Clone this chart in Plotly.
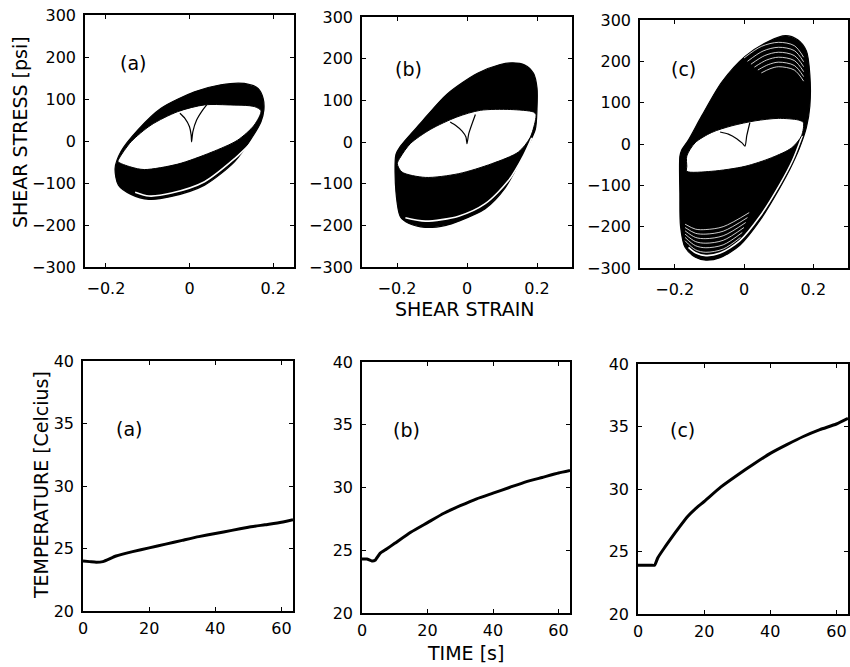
import plotly.graph_objects as go

# ---------------- data ----------------
# Top row: shear stress [psi] vs shear strain, outer envelope of all cycles,
# inner (first, white) loop and the initial loading cusp.
a_outer_x = [-0.178, -0.170, -0.140, -0.097, -0.043, 0.036, 0.108, 0.148, 0.171, 0.178, 0.176, 0.164, 0.131, 0.075, 0.012, -0.068, -0.124, -0.164]
a_outer_y = [-65, -105, -127, -139, -132, -105, -49, 6, 46, 74, 102, 125, 137, 134, 117, 78, 26, -25]
a_inner_x = [-0.171, -0.140, -0.108, -0.028, 0.052, 0.115, 0.155, 0.171, 0.155, 0.092, 0.036, -0.028, -0.092, -0.140, -0.168]
a_inner_y = [-49, -62, -68, -55, -27, 2, 38, 72, 82, 86, 86, 70, 38, -2, -41]
a_gap_x = [0.150, 0.108, 0.036, -0.043, -0.097, -0.130]
a_gap_y = [-2, -42, -97, -124, -131, -122]
a_cusp_x = [-0.023, -0.011, 0.000, 0.004, 0.005, 0.008, 0.017, 0.029, 0.041]
a_cusp_y = [66, 54, 34, 14, -2, 22, 50, 70, 86]

b_outer_x = [-0.203, -0.203, -0.190, -0.167, -0.119, -0.060, -0.024, 0.052, 0.109, 0.167, 0.195, 0.200, 0.200, 0.190, 0.165, 0.130, 0.095, 0.030, -0.057, -0.133, -0.190]
b_outer_y = [-30, -120, -180, -195, -205, -200, -190, -160, -110, -20, 30, 80, 130, 165, 185, 190, 186, 165, 115, 45, -10]
b_inner_x = [-0.199, -0.186, -0.119, -0.024, 0.071, 0.147, 0.180, 0.195, 0.197, 0.190, 0.124, 0.038, -0.029, -0.105, -0.162, -0.190]
b_inner_y = [-52, -72, -85, -76, -52, -24, 10, 50, 66, 72, 78, 76, 60, 30, -4, -36]
b_gap_x = [-0.176, -0.119, -0.024, 0.052, 0.119, 0.162, 0.185]
b_gap_y = [-182, -190, -178, -148, -92, -32, 10]
b_cusp_x = [-0.048, -0.033, -0.014, -0.003, 0.000, 0.005, 0.024]
b_cusp_y = [48, 40, 26, 12, -4, 20, 66]

c_outer_x = [-0.185, -0.185, -0.183, -0.170, -0.140, -0.110, -0.069, -0.012, 0.046, 0.104, 0.133, 0.160, 0.180, 0.190, 0.190, 0.180, 0.155, 0.120, 0.070, 0.003, -0.064, -0.122, -0.160, -0.180]
c_outer_y = [-30, -120, -200, -250, -274, -281, -275, -245, -185, -105, -60, -10, 40, 92, 167, 225, 252, 262, 248, 212, 150, 68, 10, -15]
c_inner_x = [-0.165, -0.165, -0.093, 0.003, 0.080, 0.138, 0.166, 0.171, 0.157, 0.099, 0.032, -0.035, -0.093, -0.141, -0.165]
c_inner_y = [-54, -66, -66, -54, -33, -9, 20, 52, 58, 62, 56, 44, 28, 3, -29]
c_gap_x = [-0.160, -0.140, -0.110, -0.069, -0.012, 0.046, 0.104, 0.140, 0.168]
c_gap_y = [-250, -263, -270, -264, -234, -175, -97, -40, 20]
c_cusp_x = [-0.069, -0.045, -0.021, -0.005, 0.003, 0.008, 0.017]
c_cusp_y = [29, 24, 13, 2, -5, 20, 52]

# Panel (c): separate late cycles visible as fine stripes near the peaks
c_top_stripes_x = [
    [0.000, 0.050, 0.100, 0.145, 0.172],
    [0.010, 0.055, 0.100, 0.145, 0.172],
    [0.020, 0.060, 0.100, 0.145, 0.172],
    [0.030, 0.065, 0.100, 0.145, 0.172],
    [0.040, 0.070, 0.100, 0.145, 0.172],
    [0.050, 0.075, 0.100, 0.145, 0.172],
]
c_top_stripes_y = [
    [208, 236, 246, 238, 210],
    [200, 225, 234, 226, 199],
    [193, 214, 222, 214, 187],
    [186, 203, 210, 202, 175],
    [179, 192, 198, 190, 163],
    [172, 182, 187, 179, 152],
]
c_bot_stripes_x = [
    [-0.170, -0.140, -0.110, -0.060, -0.010],
    [-0.170, -0.140, -0.110, -0.060, -0.005],
    [-0.170, -0.140, -0.110, -0.060, 0.000],
    [-0.170, -0.140, -0.110, -0.060, 0.005],
    [-0.170, -0.140, -0.110, -0.060, 0.010],
    [-0.170, -0.140, -0.110, -0.060, 0.015],
]
c_bot_stripes_y = [
    [-234, -256, -262, -254, -226],
    [-226, -246, -251, -244, -214],
    [-218, -236, -240, -233, -202],
    [-210, -226, -229, -222, -190],
    [-202, -216, -218, -211, -178],
    [-194, -206, -207, -200, -166],
]

# Bottom row: temperature [Celsius] vs time [s]
ta_t = [0, 2, 4, 6, 10, 15, 20, 25, 30, 35, 40, 45, 50, 55, 60, 63.5]
ta_T = [24.0, 23.95, 23.9, 23.95, 24.4, 24.75, 25.05, 25.35, 25.65, 25.95, 26.2, 26.45, 26.7, 26.9, 27.1, 27.3]
tb_t = [0, 1.5, 3, 4, 5.5, 7.5, 10, 15, 20, 25, 30, 35, 40, 45, 50, 55, 60, 63.5]
tb_T = [24.3, 24.3, 24.15, 24.2, 24.75, 25.1, 25.55, 26.45, 27.2, 27.95, 28.55, 29.1, 29.55, 30.0, 30.45, 30.8, 31.15, 31.35]
tc_t = [0, 2, 4, 5, 6, 8, 10, 12.5, 15, 17.5, 20, 25, 30, 35, 40, 45, 50, 55, 60, 63.5]
tc_T = [23.9, 23.9, 23.9, 23.9, 24.5, 25.3, 26.05, 26.95, 27.8, 28.45, 29.0, 30.15, 31.1, 32.0, 32.85, 33.55, 34.2, 34.75, 35.2, 35.65]

panel_labels = ["(a)", "(b)", "(c)"]
stress_ticks = [-300, -200, -100, 0, 100, 200, 300]
strain_ticks = [-0.2, 0, 0.2]
temp_ticks = [20, 25, 30, 35, 40]
time_ticks = [0, 20, 40, 60]

# ---------------- figure ----------------
W, H = 850, 667
FONT = "DejaVu Sans, Liberation Sans, sans-serif"

def px(x0, x1):
    return [x0 / W, x1 / W]

def py(top, bottom):
    return [1 - bottom / H, 1 - top / H]

fig = go.Figure()

loops = [
    (a_outer_x, a_outer_y, a_inner_x, a_inner_y, a_gap_x, a_gap_y, a_cusp_x, a_cusp_y),
    (b_outer_x, b_outer_y, b_inner_x, b_inner_y, b_gap_x, b_gap_y, b_cusp_x, b_cusp_y),
    (c_outer_x, c_outer_y, c_inner_x, c_inner_y, c_gap_x, c_gap_y, c_cusp_x, c_cusp_y),
]
for i, (ox, oy, ix, iy, gx, gy, cx, cy) in enumerate(loops):
    xa = "x" if i == 0 else f"x{i+1}"
    ya = "y" if i == 0 else f"y{i+1}"
    fig.add_trace(go.Scatter(x=ox + [ox[0]], y=oy + [oy[0]], mode="lines", fill="toself",
                             fillcolor="black", line=dict(color="black", width=1.2, shape="spline", smoothing=0.8),
                             xaxis=xa, yaxis=ya, hoverinfo="skip"))
    if i == 2:
        for sx, sy in zip(c_top_stripes_x + c_bot_stripes_x, c_top_stripes_y + c_bot_stripes_y):
            fig.add_trace(go.Scatter(x=sx, y=sy, mode="lines",
                                     line=dict(color="white", width=0.8, shape="spline", smoothing=0.9),
                                     xaxis=xa, yaxis=ya, hoverinfo="skip"))
    fig.add_trace(go.Scatter(x=gx, y=gy, mode="lines",
                             line=dict(color="white", width=1.6, shape="spline", smoothing=0.8),
                             xaxis=xa, yaxis=ya, hoverinfo="skip"))
    fig.add_trace(go.Scatter(x=ix + [ix[0]], y=iy + [iy[0]], mode="lines", fill="toself",
                             fillcolor="white", line=dict(color="black", width=1, shape="spline", smoothing=0.8),
                             xaxis=xa, yaxis=ya, hoverinfo="skip"))
    fig.add_trace(go.Scatter(x=cx, y=cy, mode="lines",
                             line=dict(color="black", width=1.2, shape="spline", smoothing=0.6),
                             xaxis=xa, yaxis=ya, hoverinfo="skip"))

temps = [(ta_t, ta_T), (tb_t, tb_T), (tc_t, tc_T)]
for i, (t, T) in enumerate(temps):
    fig.add_trace(go.Scatter(x=t, y=T, mode="lines",
                             line=dict(color="black", width=3, shape="spline", smoothing=0.5),
                             xaxis=f"x{i+4}", yaxis=f"y{i+4}", hoverinfo="skip"))

axis_common = dict(showline=True, linecolor="black", linewidth=1.5, mirror="ticks",
                   ticks="inside", ticklen=4, tickcolor="black", tickwidth=1,
                   showgrid=False, zeroline=False,
                   tickfont=dict(family=FONT, size=16, color="black"))

top_x = [px(85, 294), px(362, 572), px(640, 848)]
top_y = [py(15, 267), py(17, 267), py(20, 268)]
top_xr = [[-0.25, 0.25], [-0.3, 0.3], [-0.3, 0.3]]
bot_x = [px(83, 293), px(362, 570), px(638, 848)]
bot_y = [py(361, 611), py(362, 613), py(364, 614)]

layout = dict(width=W, height=H, margin=dict(l=0, r=0, t=0, b=0, autoexpand=False),
              paper_bgcolor="white", plot_bgcolor="white", showlegend=False)
for i in range(3):
    n = "" if i == 0 else str(i + 1)
    layout[f"xaxis{n}"] = dict(axis_common, domain=top_x[i], range=top_xr[i], anchor=f"y{n}",
                               tickvals=strain_ticks, ticklabelstandoff=6)
    layout[f"yaxis{n}"] = dict(axis_common, domain=top_y[i], range=[-300, 300], anchor=f"x{n}",
                               tickvals=stress_ticks, ticklabelstandoff=4)
    m = str(i + 4)
    layout[f"xaxis{m}"] = dict(axis_common, domain=bot_x[i], range=[0, 63.5], anchor=f"y{m}",
                               tickvals=time_ticks, ticklabelstandoff=2)
    layout[f"yaxis{m}"] = dict(axis_common, domain=bot_y[i], range=[20, 40], anchor=f"x{m}",
                               tickvals=temp_ticks, ticklabelstandoff=4)
fig.update_layout(**layout)

ann = []
top_lab_pos = [(-0.134, 185), (-0.167, 176), (-0.175, 182)]
bot_lab_pos = [(14, 34.6), (13.7, 34.6), (13.6, 34.7)]
for i in range(3):
    n = "" if i == 0 else str(i + 1)
    ann.append(dict(text=panel_labels[i], x=top_lab_pos[i][0], y=top_lab_pos[i][1],
                    xref=f"x{n}", yref=f"y{n}", showarrow=False,
                    xanchor="center", yanchor="middle",
                    font=dict(family=FONT, size=19, color="black")))
    m = str(i + 4)
    ann.append(dict(text=panel_labels[i], x=bot_lab_pos[i][0], y=bot_lab_pos[i][1],
                    xref=f"x{m}", yref=f"y{m}", showarrow=False,
                    xanchor="center", yanchor="middle",
                    font=dict(family=FONT, size=19, color="black")))

title_font = dict(family=FONT, size=19, color="black")
ann.append(dict(text="SHEAR STRESS [psi]", x=20 / W, y=1 - 132 / H, xref="paper", yref="paper",
                xanchor="center", yanchor="middle",
                textangle=-90, showarrow=False, font=title_font))
ann.append(dict(text="SHEAR STRAIN", x=465 / W, y=1 - 309 / H, xref="paper", yref="paper",
                xanchor="center", yanchor="middle", showarrow=False, font=title_font))
ann.append(dict(text="TEMPERATURE [Celcius]", x=41 / W, y=1 - 485 / H, xref="paper", yref="paper",
                xanchor="center", yanchor="middle",
                textangle=-90, showarrow=False, font=title_font))
ann.append(dict(text="TIME [s]", x=465 / W, y=1 - 653 / H, xref="paper", yref="paper",
                xanchor="center", yanchor="middle", showarrow=False, font=title_font))
fig.update_layout(annotations=ann)

fig.write_html("out.html", config={"displayModeBar": False},
               post_script="document.body.style.margin='0';")
